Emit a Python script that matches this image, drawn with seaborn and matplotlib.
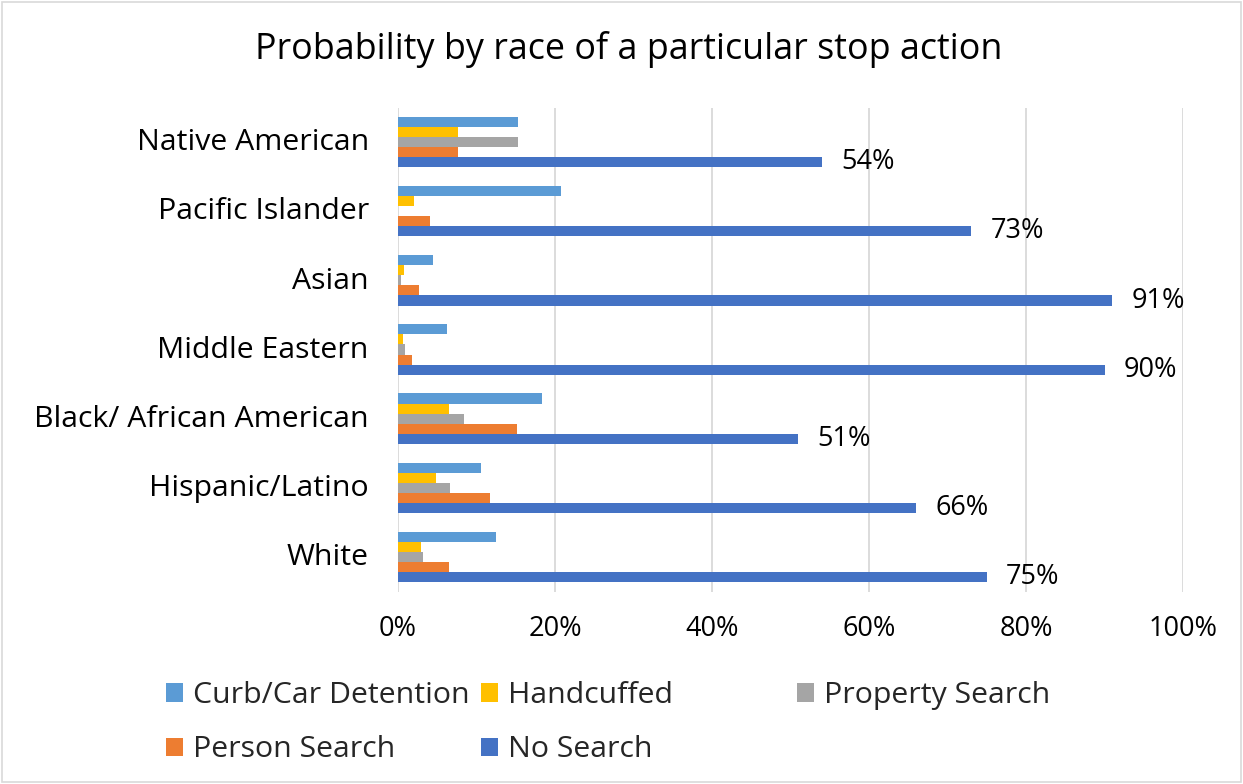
import matplotlib
matplotlib.use("Agg")
import matplotlib.pyplot as plt
import matplotlib.transforms as mtransforms
import seaborn as sns
import pandas as pd
from matplotlib.ticker import PercentFormatter

races = ["Native American", "Pacific Islander", "Asian", "Middle Eastern",
         "Black/ African American", "Hispanic/Latino", "White"]
actions = ["Curb/Car Detention", "Handcuffed", "Property Search", "Person Search", "No Search"]
curb = [15.3, 20.8, 4.5, 6.3, 18.3, 10.6, 12.5]
handcuffed = [7.6, 2.0, 0.8, 0.6, 6.5, 4.8, 2.9]
property_search = [15.3, 0.0, 0.4, 0.9, 8.4, 6.6, 3.2]
person_search = [7.6, 4.1, 2.7, 1.8, 15.1, 11.7, 6.5]
no_search = [54, 73, 91, 90, 51, 66, 75]
colors = ["#5B9BD5", "#FFC000", "#A5A5A5", "#ED7D31", "#4472C4"]

series = [curb, handcuffed, property_search, person_search, no_search]
rows = []
for a, vals in zip(actions, series):
    for r, v in zip(races, vals):
        rows.append({"race": r, "action": a, "value": v})
df = pd.DataFrame(rows)

sns.set_theme(style="white")
plt.rcParams["font.family"] = ["Open Sans", "DejaVu Sans"]
FS_NUM = 19.5
FS_TXT = 21.8

fig = plt.figure(figsize=(12.43, 7.84), dpi=100)
ax = fig.add_axes([398/1243, 1-591.5/784, (1183-398)/1243, 484/784])

sns.barplot(data=df, y="race", x="value", hue="action", order=races,
            hue_order=actions, palette=colors, orient="h", width=0.73,
            saturation=1, linewidth=0, ax=ax, legend=True)

ax.set_xlim(0, 100)
ax.xaxis.set_major_formatter(PercentFormatter(decimals=0))
ax.set_xticks([0, 20, 40, 60, 80, 100])
ax.grid(axis="x", color="#D9D9D9", linewidth=1.3)
ax.grid(axis="y", visible=False)
ax.set_axisbelow(True)
for s in ["top", "right", "bottom", "left"]:
    ax.spines[s].set_visible(False)
ax.set_xlabel("")
ax.set_ylabel("")
ax.tick_params(axis="y", length=0, pad=21, labelsize=FS_TXT, labelcolor="#000000")
ax.tick_params(axis="x", length=0, pad=17, labelsize=FS_NUM, labelcolor="#000000")
shift = mtransforms.ScaledTranslation(0, 2/72, fig.dpi_scale_trans)
for lbl in ax.get_yticklabels():
    lbl.set_transform(lbl.get_transform() + shift)

ns_container = ax.containers[-1]
ax.bar_label(ns_container, labels=[f"{v:.0f}%" for v in no_search],
             padding=14, fontsize=FS_NUM, color="#000000")

handles, labels = ax.get_legend_handles_labels()
ax.get_legend().remove()
h = dict(zip(labels, handles))
leg_kw = dict(frameon=False, fontsize=FS_TXT, handlelength=0.56, handleheight=0.56,
              handletextpad=0.33, borderaxespad=0, borderpad=0)
leg1 = fig.legend([h["Curb/Car Detention"], h["Person Search"], h["Handcuffed"], h["No Search"]],
                  ["Curb/Car Detention", "Person Search", "Handcuffed", "No Search"],
                  ncol=2, loc="upper left", bbox_to_anchor=(166/1243, 1-681/784),
                  columnspacing=0.39, labelspacing=0.84, **leg_kw)
leg2 = fig.legend([h["Property Search"]], ["Property Search"],
                  loc="upper left", bbox_to_anchor=(797/1243, 1-681/784), **leg_kw)

fig.text(628.5/1243, 1-50/784, "Probability by race of a particular stop action",
         ha="center", va="center", fontsize=25.8, color="#000000")

fig.patches.append(plt.Rectangle((0.002, 0.002), 0.996, 0.996, transform=fig.transFigure,
                                 fill=False, edgecolor="#D9D9D9", linewidth=1.2))

fig.savefig("out.png", dpi=100)
